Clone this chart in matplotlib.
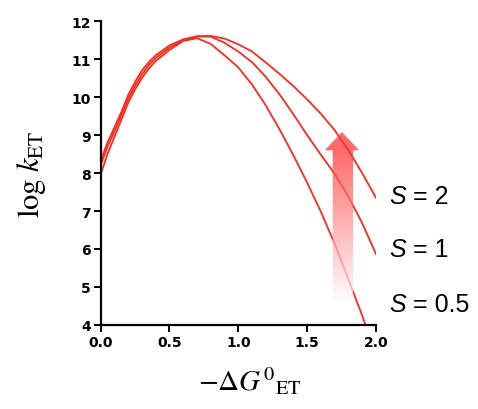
import numpy as np
import matplotlib
matplotlib.use("Agg")
import matplotlib.pyplot as plt
from matplotlib.patches import Polygon

# -Delta G0 (eV) sample points
dg = [0.0, 0.05, 0.1, 0.15, 0.2, 0.25, 0.3, 0.35, 0.4, 0.5, 0.6, 0.7, 0.8,
      0.9, 1.0, 1.1, 1.2, 1.3, 1.4, 1.5, 1.6, 1.7, 1.8, 1.9, 2.0]

# log k_ET for each Huang-Rhys factor S
logk_s05 = [7.96, 8.5, 8.95, 9.4, 9.85, 10.2, 10.5, 10.75, 10.95, 11.24, 11.48, 11.55, 11.4,
            11.1, 10.78, 10.33, 9.78, 9.15, 8.47, 7.75, 6.98, 6.14, 5.2, 4.25, 3.2]
logk_s1 = [8.2, 8.7, 9.1, 9.52, 9.95, 10.3, 10.6, 10.84, 11.03, 11.3, 11.5, 11.6, 11.59,
           11.43, 11.2, 10.92, 10.53, 10.07, 9.55, 9.0, 8.48, 7.98, 7.38, 6.68, 5.87]
logk_s2 = [8.33, 8.8, 9.2, 9.6, 10.05, 10.4, 10.7, 10.92, 11.1, 11.36, 11.52, 11.6, 11.61,
           11.54, 11.39, 11.2, 10.91, 10.61, 10.29, 9.94, 9.56, 9.13, 8.6, 8.0, 7.35]

labels = ['S', 'S', 'S']
label_rest = [' = 2', ' = 1', ' = 0.5']
label_y = [7.4, 6.0, 4.56]

plt.rcParams['mathtext.fontset'] = 'stix'

fig = plt.figure(figsize=(4.78, 4.10), dpi=100)
ax = fig.add_axes([0.2105, 0.205, 0.576, 0.741])

red = '#ff2a1a'
for ys in (logk_s05, logk_s1, logk_s2):
    ax.plot(dg, ys, color=red, lw=1.3, solid_joinstyle='round')

ax.set_xlim(0, 2.0)
ax.set_ylim(4, 12)
ax.set_xticks([0.0, 0.5, 1.0, 1.5, 2.0])
ax.set_xticklabels(['0.0', '0.5', '1.0', '1.5', '2.0'])
ax.set_yticks(range(4, 13))

for s in ('top', 'right'):
    ax.spines[s].set_visible(False)
for s in ('left', 'bottom'):
    ax.spines[s].set_linewidth(1.6)
ax.tick_params(direction='out', length=5, width=1.4, labelsize=10, pad=2)
for lab in ax.get_xticklabels() + ax.get_yticklabels():
    lab.set_fontweight('bold')

# gradient arrow: pink at the top, fading to white at the bottom
x0, x1 = 1.686, 1.834
hx0, hx1 = 1.628, 1.878
ybot, ybase, ytip = 4.61, 8.6, 9.08
arrow = Polygon([(x0, ybot), (x0, ybase), (hx0, ybase), ((hx0 + hx1) / 2, ytip),
                 (hx1, ybase), (x1, ybase), (x1, ybot)],
                closed=True, facecolor='none', edgecolor='none',
                transform=ax.transData)
ax.add_patch(arrow)
n = 256
t = np.clip((np.linspace(ybot, ytip, n) - ybot) / (ybase - ybot), 0, 1)
img = np.zeros((n, 2, 4))
img[..., 0] = 1.0
img[..., 1] = (1 - t * 0.81)[:, None]
img[..., 2] = (1 - t * 0.81)[:, None]
img[..., 3] = 0.72
im = ax.imshow(img, extent=[hx0, hx1, ybot, ytip], origin='lower',
               aspect='auto', interpolation='bilinear', zorder=3)
im.set_clip_path(arrow)

for s, rest, yv in zip(labels, label_rest, label_y):
    t1 = ax.text(2.1, yv, s, fontsize=18, family='Liberation Sans', style='italic',
                 va='center', ha='left', clip_on=False)
    ax.annotate(rest, xy=(1, 0.5), xycoords=t1, va='center', ha='left',
                fontsize=18, family='Liberation Sans', annotation_clip=False)

ax.set_xlabel(r'$-\Delta G^{0}{}_{\mathrm{ET}}$', fontsize=21)
ax.set_ylabel(r'$\mathrm{log}\ k_{\mathrm{ET}}$', fontsize=22)
ax.xaxis.set_label_coords(0.54, -0.13)
ax.yaxis.set_label_coords(-0.19, 0.5)

plt.savefig('out.png', dpi=100)
